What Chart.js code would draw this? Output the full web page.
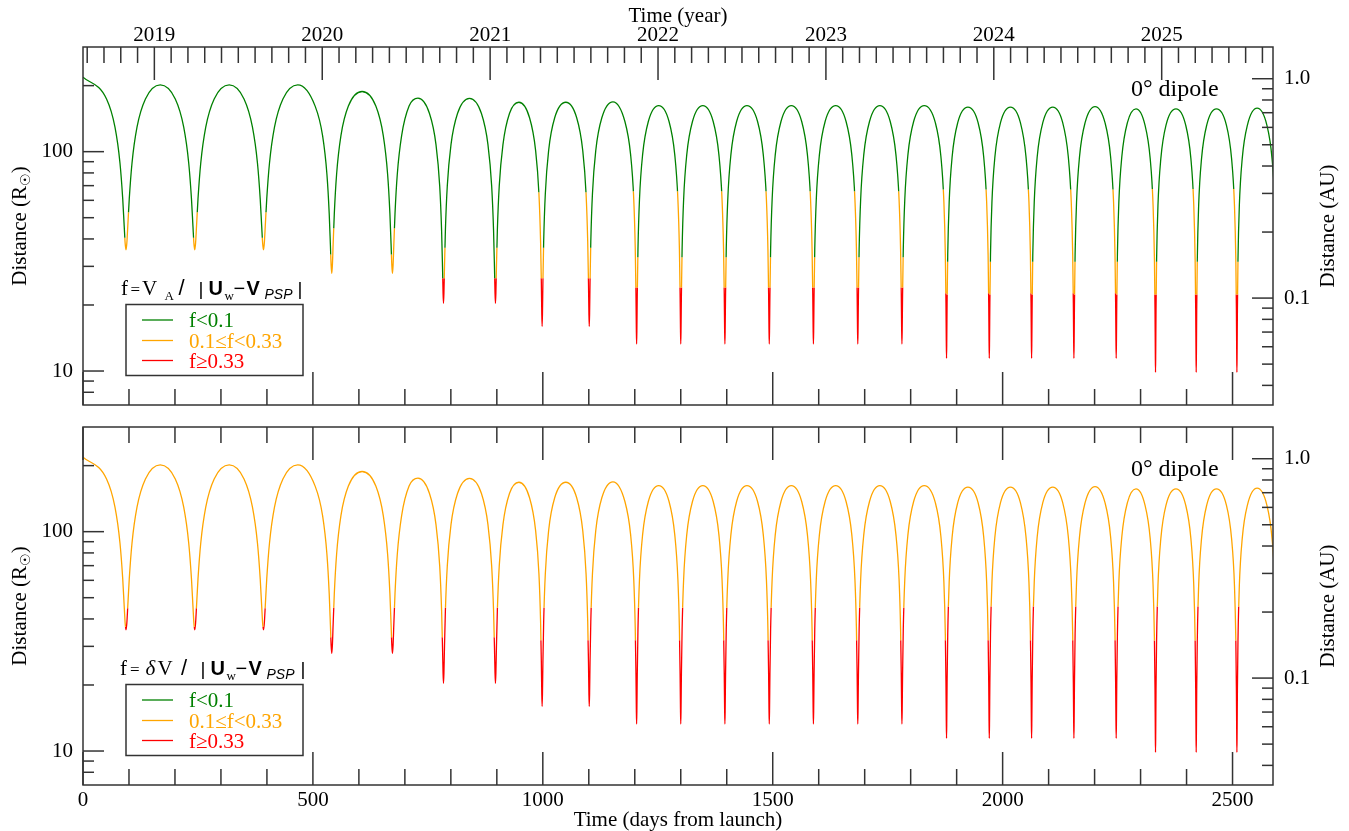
<!DOCTYPE html>
<html>
<head>
<meta charset="utf-8">
<script src="https://cdn.jsdelivr.net/npm/chart.js@4.4.1/dist/chart.umd.min.js"></script>
<style>
  html, body { margin: 0; padding: 0; background: #fff; }
  #wrap { position: relative; width: 1349px; height: 831px; }
  #wrap canvas { position: absolute; left: 0; top: 0; }
</style>
</head>
<body>
<div id="wrap">
  <canvas id="psp_top" width="1349" height="831"></canvas>
  <canvas id="psp_bottom" width="1349" height="831"></canvas>
</div>
<script>
const R_SUN_PER_AU = 215.03;

// axis ranges
let dayMin = 0, dayMax = 2588;
let yearMin = 2018.575, yearMax = 2025.663;
let distMin = 7, distMax = 300;

// tick labels
let dayLabels = [0, 500, 1000, 1500, 2000, 2500];
let yearLabels = [2019, 2020, 2021, 2022, 2023, 2024, 2025];
let rsunLabels = [10, 100];
let auLabels = [0.1, 1.0];

// perihelion passes (days from launch, distance in R_sun) and orbit family
let periDay = [93.5, 243, 392.5, 541, 673, 784, 897, 998.5, 1101, 1204, 1300, 1396, 1492.5,
  1588.5, 1685, 1781, 1878, 1971, 2063, 2155, 2247, 2332.5, 2421, 2509.5, 2597.5];
let periDist = [35.7, 35.7, 35.7, 27.9, 27.9, 20.35, 20.35, 15.98, 15.98, 13.28, 13.28, 13.28, 13.28,
  13.28, 13.28, 13.28, 11.42, 11.42, 11.42, 11.42, 11.42, 9.86, 9.86, 9.86, 9.86];
let orbitGroup = [0, 0, 0, 1, 1, 2, 2, 3, 3, 4, 4, 4, 4, 4, 4, 4, 5, 5, 5, 5, 5, 6, 6, 6, 6];

// launch point, then the aphelia between perihelia
let aphDay = [0, 168, 318, 467, 607, 728.5, 840.5, 948, 1050, 1152.5, 1252, 1348, 1444, 1540.5,
  1637, 1733, 1829.5, 1924.5, 2017, 2109, 2201, 2290, 2377, 2465, 2553.5];
let aphDist = [218.7, 201.6, 201.6, 201.6, 188, 175.3, 175, 168, 168, 168.8, 162, 162, 162, 162,
  162, 162, 162.2, 159.5, 159.5, 159.5, 160.6, 156.7, 156.7, 156.7, 157.8];

// leg shape of each orbit family: days away from perihelion and distance (R_sun)
let legDays = [
  [1.83, 3.92, 7.10, 13.05, 23.95, 42.3],
  [1.38, 2.99, 5.55, 10.53, 19.96, 36.15],
  [0.97, 2.15, 4.14, 8.24, 16.31, 30.47],
  [0.74, 1.69, 3.36, 6.98, 14.3, 27.34],
  [0.61, 1.42, 2.92, 6.25, 13.12, 25.47],
  [0.52, 1.24, 2.61, 5.74, 12.31, 24.21],
  [0.45, 1.08, 2.35, 5.30, 11.56, 23.0]
];
let legDist = [
  [38.3, 45.9, 60.9, 88.6, 129.3, 173.9],
  [30.4, 37.7, 52.2, 78.9, 118.3, 161.3],
  [22.8, 29.8, 43.8, 69.7, 107.7, 149.2],
  [18.3, 25.3, 39.0, 64.5, 101.8, 142.7],
  [15.6, 22.4, 35.8, 60.7, 97.2, 137.2],
  [13.7, 20.5, 34.0, 58.8, 95.3, 135.2],
  [12.2, 18.9, 32.2, 56.8, 92.9, 132.5]
];

// distances (R_sun) where the colour class changes, per orbit family
let topInGreen = [40.5, 34, 26.5, 65.3, 66, 67.3, 67.6];
let topInRed = [0, 0, 26.5, 26.5, 24, 22.6, 22.3];
let topOutGreen = [52.9, 44.8, 36.5, 36.5, 33, 31.5, 31.5];
let topOutRed = [0, 0, 26.5, 26.5, 24, 22.3, 22.3];
let botInRed = [36.9, 33, 33, 32, 32, 32, 31.9];
let botOutRed = [44.8, 45, 45, 45, 45, 45.6, 45.6];

let lineColors = { green: '#008000', orange: '#FFA500', red: '#FF0000' };
let legendLabels = ['f<0.1', '0.1\u2264f<0.33', 'f\u22650.33'];

const tickFont = { family: 'Liberation Serif', size: 21 };
const AXIS = '#333';

function orbitPoints() {
  let pts = [];
  for (let k = 0; k < periDay.length; k++) {
    let g = orbitGroup[k];
    if (k < aphDay.length) pts.push({ x: aphDay[k], y: aphDist[k] });
    for (let i = legDays[g].length - 1; i >= 0; i--) {
      pts.push({ x: periDay[k] - legDays[g][i], y: legDist[g][i] });
    }
    pts.push({ x: periDay[k], y: periDist[k] });
    for (let i = 0; i < legDays[g].length; i++) {
      pts.push({ x: periDay[k] + legDays[g][i], y: legDist[g][i] });
    }
  }
  return pts;
}

// each colour dataset is clipped to the distance band of its class, leg by leg
const colorClip = {
  id: 'colorClip',
  beforeDatasetDraw(chart, args, opts) {
    const cls = chart.data.datasets[args.index].fClass;
    const ctx = chart.ctx, a = chart.chartArea;
    const xs = chart.scales.x, ys = chart.scales.y;
    const py = d => {
      if (d === Infinity) return a.top - 5;
      if (d <= 0) return a.bottom + 5;
      return ys.getPixelForValue(d);
    };
    const band = (tg, tr) => {
      if (cls === 'green') return [a.top - 5, py(tg)];
      if (cls === 'orange') return [py(tg), py(tr)];
      return [py(tr), a.bottom + 5];
    };
    ctx.save();
    ctx.beginPath();
    for (let k = 0; k < periDay.length; k++) {
      let g = orbitGroup[k];
      let xL = k === 0 ? a.left - 5 : xs.getPixelForValue(aphDay[k]);
      let xP = xs.getPixelForValue(periDay[k]);
      let xR = k + 1 < aphDay.length ? xs.getPixelForValue(aphDay[k + 1]) : a.right + 5;
      let bi, bo;
      if (opts.panel === 'top') {
        bi = band(topInGreen[g], topInRed[g]);
        bo = band(topOutGreen[g], topOutRed[g]);
      } else {
        bi = band(Infinity, botInRed[g]);
        bo = band(Infinity, botOutRed[g]);
      }
      if (bi[1] > bi[0]) ctx.rect(xL, bi[0], xP - xL, bi[1] - bi[0]);
      if (bo[1] > bo[0]) ctx.rect(xP, bo[0], xR - xP, bo[1] - bo[0]);
    }
    ctx.clip();
  },
  afterDatasetDraw(chart) {
    chart.ctx.restore();
  }
};

function tickMarks(ctx, scale, values, len, edge, a) {
  values.forEach(v => {
    const p = scale.getPixelForValue(v);
    ctx.beginPath();
    if (edge === 'top' || edge === 'bottom') {
      if (p < a.left - 0.5 || p > a.right + 0.5) return;
      const y0 = edge === 'top' ? a.top : a.bottom;
      ctx.moveTo(p, y0);
      ctx.lineTo(p, edge === 'top' ? y0 + len : y0 - len);
    } else {
      if (p < a.top - 0.5 || p > a.bottom + 0.5) return;
      const x0 = edge === 'left' ? a.left : a.right;
      ctx.moveTo(x0, p);
      ctx.lineTo(edge === 'left' ? x0 + len : x0 - len, p);
    }
    ctx.stroke();
  });
}

function drawPieces(ctx, pieces, baseline) {
  pieces.forEach(p => {
    ctx.font = p[3];
    ctx.fillText(p[0], p[1], baseline + p[2]);
  });
}

function rotatedTitle(ctx, cx, cy, pieces) {
  ctx.save();
  ctx.translate(cx, cy);
  ctx.rotate(-Math.PI / 2);
  let w = 0;
  pieces.forEach(p => { ctx.font = p[1]; w += ctx.measureText(p[0]).width; });
  let x = -w / 2;
  pieces.forEach(p => {
    ctx.font = p[1];
    ctx.fillText(p[0], x, 7 + p[2]);
    x += ctx.measureText(p[0]).width;
  });
  ctx.restore();
}

const SERIF21 = '21px "Liberation Serif"';
const SERIF13 = '13px "Liberation Serif"';
const SANS20 = '20px "Liberation Sans"';
const SANS22 = '22px "Liberation Sans"';
const SANSBAR = '19px "Liberation Sans"';
const SANSB20 = 'bold 20px "Liberation Sans"';
const SANSI14 = 'italic 14px "Liberation Sans"';

const panelDecor = {
  id: 'panelDecor',
  afterDraw(chart, args, opts) {
    const ctx = chart.ctx, a = chart.chartArea;
    const isTop = opts.panel === 'top';
    const off = isTop ? 0 : 380;
    ctx.save();
    ctx.strokeStyle = AXIS;
    ctx.lineWidth = 1.5;

    let dayMajor = dayLabels;
    let dayMinor = [];
    for (let d = 100; d < dayMax; d += 100) if (d % 500) dayMinor.push(d);
    let rsunMinor = [8, 9, 20, 30, 40, 50, 60, 70, 80, 90, 200];
    let auMinor = [0.04, 0.05, 0.06, 0.07, 0.08, 0.09, 0.2, 0.3, 0.4, 0.5, 0.6, 0.7, 0.8, 0.9];

    tickMarks(ctx, chart.scales.x, dayMajor, 33, 'bottom', a);
    tickMarks(ctx, chart.scales.x, dayMinor, 16, 'bottom', a);
    if (isTop) {
      let yearMinor = [];
      for (let i = 20186; i <= 20256; i++) if (i % 10) yearMinor.push(i / 10);
      tickMarks(ctx, chart.scales.xYear, yearLabels, 33, 'top', a);
      tickMarks(ctx, chart.scales.xYear, yearMinor, 16, 'top', a);
    } else {
      tickMarks(ctx, chart.scales.x, dayMajor, 33, 'top', a);
      tickMarks(ctx, chart.scales.x, dayMinor, 16, 'top', a);
    }
    tickMarks(ctx, chart.scales.y, rsunLabels, 21, 'left', a);
    tickMarks(ctx, chart.scales.y, rsunMinor, 11, 'left', a);
    tickMarks(ctx, chart.scales.yAU, auLabels, 21, 'right', a);
    tickMarks(ctx, chart.scales.yAU, auMinor, 11, 'right', a);
    ctx.strokeRect(a.left, a.top, a.right - a.left, a.bottom - a.top);

    // axis titles on the sides
    ctx.fillStyle = '#000';
    ctx.textBaseline = 'alphabetic';
    ctx.textAlign = 'left';
    const cy = (a.top + a.bottom) / 2;
    rotatedTitle(ctx, 19, cy, [['Distance (R', SERIF21, 0], ['\u2609', '14px "DejaVu Sans"', 4], [')', SERIF21, 0]]);
    rotatedTitle(ctx, 1327, cy, [['Distance (AU)', SERIF21, 0]]);

    // model label
    ctx.font = '24px "Liberation Serif"';
    ctx.fillText('0\u00b0 dipole', 1131, 96 + off);

    // legend title
    if (isTop) {
      drawPieces(ctx, [
        ['f', 121, 0, SERIF21], ['=', 130.5, 0, '17px "Liberation Serif"'], ['V', 142, 0, SERIF21], ['A', 164.5, 5, SERIF13],
        ['/', 178.5, 0, SANS22], ['|', 198.5, 0, SANSBAR], ['U', 208.5, 0, SANSB20], ['w', 224.5, 5, SERIF13],
        ['\u2212', 233.5, 0, SANS20], ['V', 246.5, 0, SANSB20], ['PSP', 264.5, 4, SANSI14], ['|', 297.5, 0, SANSBAR]
      ], 295);
    } else {
      drawPieces(ctx, [
        ['f', 120, 0, SERIF21], ['=', 130, 0, '17px "Liberation Serif"'], ['\u03b4', 145.5, 0, 'italic 21px "Liberation Serif"'],
        ['V', 157.5, 0, SERIF21], ['/', 181, 0, SANS22], ['|', 200.5, 0, SANSBAR], ['U', 210.5, 0, SANSB20],
        ['w', 226.5, 5, SERIF13], ['\u2212', 235.5, 0, SANS20], ['V', 248.5, 0, SANSB20],
        ['PSP', 266.5, 4, SANSI14], ['|', 300.5, 0, SANSBAR]
      ], 675);
    }

    // legend box
    const bx = 126, by = 304.5 + off, bw = 177, bh = 71;
    ctx.fillStyle = '#fff';
    ctx.fillRect(bx, by, bw, bh);
    ctx.strokeStyle = AXIS;
    ctx.lineWidth = 1.5;
    ctx.strokeRect(bx, by, bw, bh);
    const rows = [320, 340.5, 360.5];
    const cls = ['green', 'orange', 'red'];
    ctx.font = SERIF21;
    rows.forEach((r, i) => {
      const yy = r + off;
      ctx.strokeStyle = lineColors[cls[i]];
      ctx.lineWidth = 1.3;
      ctx.beginPath();
      ctx.moveTo(142, yy);
      ctx.lineTo(173, yy);
      ctx.stroke();
      ctx.fillStyle = lineColors[cls[i]];
      ctx.fillText(legendLabels[i], 189, yy + 7);
    });
    ctx.restore();
  }
};

function yAxes() {
  return {
    y: {
      type: 'logarithmic', position: 'left', min: distMin, max: distMax,
      grid: { display: false, drawTicks: false }, border: { display: false },
      afterBuildTicks: s => { s.ticks = rsunLabels.map(v => ({ value: v })); },
      ticks: { autoSkip: false, font: tickFont, color: '#000', padding: 10, callback: v => String(v) },
      afterFit: s => { s.width = 83; }
    },
    yAU: {
      type: 'logarithmic', position: 'right', min: distMin / R_SUN_PER_AU, max: distMax / R_SUN_PER_AU,
      grid: { display: false, drawTicks: false }, border: { display: false },
      afterBuildTicks: s => { s.ticks = auLabels.map(v => ({ value: v })); },
      ticks: { autoSkip: false, font: tickFont, color: '#000', padding: 11, callback: v => Number(v).toFixed(1) },
      afterFit: s => { s.width = 76; }
    }
  };
}

function makeConfig(panel) {
  const isTop = panel === 'top';
  const pts = orbitPoints();
  const datasets = ['green', 'orange', 'red'].map(c => ({
    label: c,
    fClass: c,
    data: pts.map(p => ({ x: p.x, y: p.y })),
    borderColor: lineColors[c],
    borderWidth: 1.3,
    pointRadius: 0,
    fill: false,
    cubicInterpolationMode: 'monotone',
    xAxisID: 'x',
    yAxisID: 'y'
  }));

  let scales = yAxes();
  if (isTop) {
    scales.x = {
      type: 'linear', position: 'bottom', min: dayMin, max: dayMax,
      grid: { display: false, drawTicks: false }, border: { display: false }, ticks: { display: false },
      afterFit: s => { s.height = 426; }
    };
    scales.xYear = {
      type: 'linear', position: 'top', min: yearMin, max: yearMax,
      grid: { display: false, drawTicks: false }, border: { display: false },
      afterBuildTicks: s => { s.ticks = yearLabels.map(v => ({ value: v })); },
      ticks: { autoSkip: false, maxRotation: 0, font: tickFont, color: '#000', padding: -1, callback: v => String(v) },
      title: { display: true, text: 'Time (year)', font: tickFont, color: '#000', padding: { top: 4, bottom: 0 } },
      afterFit: s => { s.height = 47; }
    };
  } else {
    scales.x = {
      type: 'linear', position: 'bottom', min: dayMin, max: dayMax,
      grid: { display: false, drawTicks: false }, border: { display: false },
      afterBuildTicks: s => { s.ticks = dayLabels.map(v => ({ value: v })); },
      ticks: { autoSkip: false, maxRotation: 0, font: tickFont, color: '#000', padding: 3, callback: v => String(v) },
      title: { display: true, text: 'Time (days from launch)', font: tickFont, color: '#000', padding: { top: 0, bottom: -2 } },
      afterFit: s => { s.height = 46; }
    };
    scales.xTop = {
      type: 'linear', position: 'top', min: dayMin, max: dayMax,
      grid: { display: false, drawTicks: false }, border: { display: false }, ticks: { display: false },
      afterFit: s => { s.height = 427; }
    };
  }

  return {
    type: 'line',
    data: { datasets: datasets },
    options: {
      responsive: false,
      animation: false,
      devicePixelRatio: 1,
      layout: { padding: 0 },
      scales: scales,
      plugins: {
        legend: { display: false },
        tooltip: { enabled: false },
        colorClip: { panel: panel },
        panelDecor: { panel: panel }
      }
    },
    plugins: [colorClip, panelDecor]
  };
}

document.addEventListener('DOMContentLoaded', (ev) => {
  new Chart(document.getElementById('psp_top').getContext('2d'), makeConfig('top'));
  new Chart(document.getElementById('psp_bottom').getContext('2d'), makeConfig('bottom'));
});
</script>
</body>
</html>
